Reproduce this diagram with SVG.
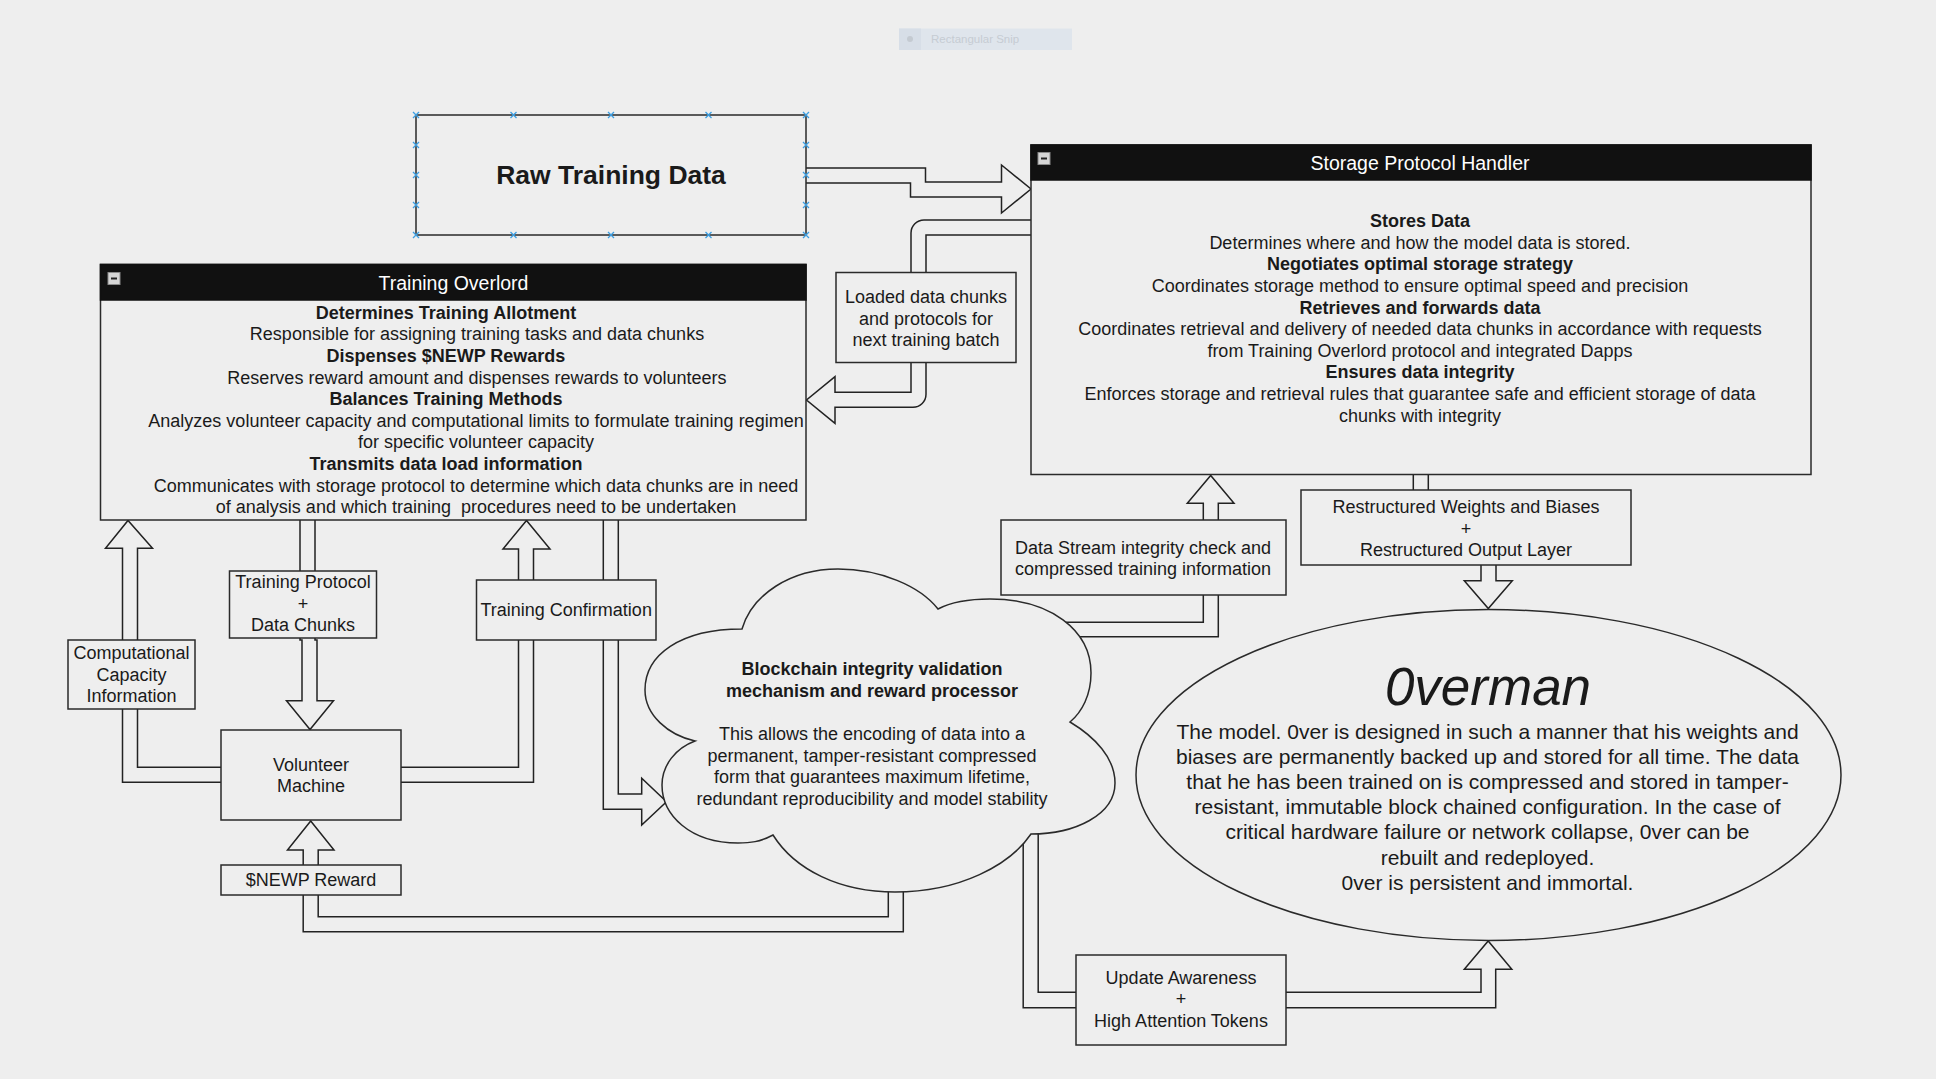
<svg xmlns="http://www.w3.org/2000/svg" xmlns:xlink="http://www.w3.org/1999/xlink" width="1936" height="1079" viewBox="0 0 1936 1079">
  <style>
    .box { fill: #eeeeee; stroke: #2a2a2a; stroke-width: 1.5; }
    .hdr { fill: #111111; stroke: #111111; stroke-width: 1.5; }
    .arrow { fill: #eeeeee; stroke: #222222; stroke-width: 1.5; stroke-linejoin: miter; }
    .t { font-family: "Liberation Sans", Arial, Helvetica, sans-serif; font-size: 18px; fill: #1a1a1a; text-anchor: middle; }
    .b { font-weight: bold; }
    .title { font-size: 19.5px; fill: #ffffff; }
    .big { font-size: 21px; }
    .raw { font-size: 26.5px; font-weight: bold; }
    .hero { font-size: 53px; font-style: italic; }
    .handle { stroke: #3d9fe2; stroke-width: 1.3; fill: none; }
  </style>
  <defs>
    <!-- collapse button shown in container headers -->
    <g id="collapse">
      <rect x="0" y="0" width="12" height="12" fill="#d6d6d6" stroke="#8a8a8a" stroke-width="1"/>
      <line x1="3" y1="6" x2="9" y2="6" stroke="#222222" stroke-width="2"/>
    </g>
    <!-- selection handle cross -->
    <path id="hx" class="handle" d="M-3,-3 L3,3 M-3,3 L3,-3"/>
  </defs>

  <rect x="0" y="0" width="1936" height="1079" fill="#eeeeee"/>

  <!-- faded screen-capture toolbar -->
  <g id="snip-toolbar">
    <rect x="899" y="28.5" width="173" height="21.5" fill="#dfe5ec"/>
    <rect x="899" y="28.5" width="22" height="21.5" fill="#d7dee7"/>
    <circle cx="910" cy="39" r="3" fill="#c4cad1"/>
    <text x="931" y="43" font-family="'Liberation Sans', Arial, sans-serif" font-size="11.5" fill="#c6ccd3">Rectangular Snip</text>
  </g>

  <!-- connectors (hollow block arrows) -->
  <g id="connectors">
    <path class="arrow" d="M806,168 H925.5 V182 H1001.5 V165 L1031,189 L1001.5,213 V197 H910.5 V183 H806"/>
    <path class="arrow" d="M1031,220 H924 A13,13 0 0 0 911,233 V392.3 H835 V376.7 L806.5,400 L835,423.3 V407.3 H913 A13,13 0 0 0 926,394.3 V235 H1031"/>
    <path class="arrow" d="M221,767.3 H137.5 V548.3 H152.5 L128,520.5 L105.5,548.3 H122.5 V782.3 H221"/>
    <path class="arrow" d="M300,520 V640 H302 V700.7 H286.5 L310,729.5 L333.5,700.7 H317 V640 H315 V520"/>
    <path class="arrow" d="M400.5,767.3 H518.5 V549 H503 L526.5,520.5 L550,549 H533.5 V782.3 H400.5"/>
    <path class="arrow" d="M603.3,520 V809.3 H641.7 V825 L666.5,801.7 L641.7,778.3 V794 H618.3 V520"/>
    <path class="arrow" d="M303.2,865 V850 H287.5 L310.7,821 L334,850 H318.2 V865"/>
    <path class="arrow" d="M303.2,895 V931.7 H903.3 V870 H888.3 V916.7 H318.2 V895"/>
    <path class="arrow" d="M1040,636.7 H1218.3 V503.3 H1234 L1210.7,475.5 L1187.3,503.3 H1203.3 V622.3 H1040"/>
    <path class="arrow" d="M1413.3,474 V520 H1481 V580.7 H1464.3 L1488.3,608.5 L1512.3,580.7 H1496 V520 H1428.3 V474"/>
    <path class="arrow" d="M1023.2,820 V1007.7 H1495.7 V969.3 H1511.8 L1488.2,941 L1464.3,969.3 H1481 V992.3 H1038.2 V820"/>
  </g>

  <!-- Raw Training Data (selected) -->
  <g id="raw-training-data">
    <rect class="box" x="416" y="115" width="390" height="120"/>
    <text class="t raw" x="611" y="184">Raw Training Data</text>
    <use xlink:href="#hx" x="416" y="115"/><use xlink:href="#hx" x="513.5" y="115"/><use xlink:href="#hx" x="611" y="115"/><use xlink:href="#hx" x="708.5" y="115"/><use xlink:href="#hx" x="806" y="115"/>
    <use xlink:href="#hx" x="416" y="235"/><use xlink:href="#hx" x="513.5" y="235"/><use xlink:href="#hx" x="611" y="235"/><use xlink:href="#hx" x="708.5" y="235"/><use xlink:href="#hx" x="806" y="235"/>
    <use xlink:href="#hx" x="416" y="145"/><use xlink:href="#hx" x="416" y="175"/><use xlink:href="#hx" x="416" y="205"/>
    <use xlink:href="#hx" x="806" y="145"/><use xlink:href="#hx" x="806" y="175"/><use xlink:href="#hx" x="806" y="205"/>
  </g>

  <!-- Storage Protocol Handler container -->
  <g id="storage-protocol-handler">
    <rect class="box" x="1031" y="145" width="780" height="329.5"/>
    <rect class="hdr" x="1031" y="145" width="780" height="35"/>
    <use xlink:href="#collapse" x="1038" y="152.5"/>
    <text class="t title" x="1420" y="170.3">Storage Protocol Handler</text>
    <text class="t b" x="1420" y="227.1">Stores Data</text>
    <text class="t" x="1420" y="248.7">Determines where and how the model data is stored.</text>
    <text class="t b" x="1420" y="270.3">Negotiates optimal storage strategy</text>
    <text class="t" x="1420" y="291.9">Coordinates storage method to ensure optimal speed and precision</text>
    <text class="t b" x="1420" y="313.5">Retrieves and forwards data</text>
    <text class="t" x="1420" y="335.1">Coordinates retrieval and delivery of needed data chunks in accordance with requests</text>
    <text class="t" x="1420" y="356.7">from Training Overlord protocol and integrated Dapps</text>
    <text class="t b" x="1420" y="378.3">Ensures data integrity</text>
    <text class="t" x="1420" y="399.9">Enforces storage and retrieval rules that guarantee safe and efficient storage of data</text>
    <text class="t" x="1420" y="421.5">chunks with integrity</text>
  </g>

  <!-- Training Overlord container -->
  <g id="training-overlord">
    <rect class="box" x="100.5" y="264.5" width="705.5" height="255.5"/>
    <rect class="hdr" x="100.5" y="264.5" width="705.5" height="35.5"/>
    <use xlink:href="#collapse" x="108" y="272.5"/>
    <text class="t title" x="453.5" y="290.3">Training Overlord</text>
    <text class="t b" x="446" y="318.7">Determines Training Allotment</text>
    <text class="t" x="477" y="340.3">Responsible for assigning training tasks and data chunks</text>
    <text class="t b" x="446" y="361.9">Dispenses $NEWP Rewards</text>
    <text class="t" x="477" y="383.5">Reserves reward amount and dispenses rewards to volunteers</text>
    <text class="t b" x="446" y="405.1">Balances Training Methods</text>
    <text class="t" x="476" y="426.7">Analyzes volunteer capacity and computational limits to formulate training regimen</text>
    <text class="t" x="476" y="448.3">for specific volunteer capacity</text>
    <text class="t b" x="446" y="469.9">Transmits data load information</text>
    <text class="t" x="476" y="491.5">Communicates with storage protocol to determine which data chunks are in need</text>
    <text class="t" x="476" y="513.1" xml:space="preserve">of analysis and which training  procedures need to be undertaken</text>
  </g>

  <g id="loaded-data-chunks">
    <rect class="box" x="836" y="272.5" width="180" height="90"/>
    <text class="t" x="926" y="303.1">Loaded data chunks</text>
    <text class="t" x="926" y="324.7">and protocols for</text>
    <text class="t" x="926" y="346.3">next training batch</text>
  </g>

  <g id="computational-capacity">
    <rect class="box" x="68" y="640" width="127" height="69"/>
    <text class="t" x="131.5" y="659.1">Computational</text>
    <text class="t" x="131.5" y="680.7">Capacity</text>
    <text class="t" x="131.5" y="702.3">Information</text>
  </g>

  <g id="training-protocol">
    <rect class="box" x="229.5" y="571" width="147" height="67"/>
    <text class="t" x="303" y="588.1">Training Protocol</text>
    <text class="t" x="303" y="609.7">+</text>
    <text class="t" x="303" y="631.3">Data Chunks</text>
  </g>

  <g id="training-confirmation">
    <rect class="box" x="476.5" y="580" width="179.5" height="60"/>
    <text class="t" x="566.2" y="616.4">Training Confirmation</text>
  </g>

  <g id="volunteer-machine">
    <rect class="box" x="221" y="730" width="180" height="90"/>
    <text class="t" x="311" y="770.6">Volunteer</text>
    <text class="t" x="311" y="792.2">Machine</text>
  </g>

  <g id="newp-reward">
    <rect class="box" x="221" y="865" width="180" height="30"/>
    <text class="t" x="311" y="885.7">$NEWP Reward</text>
  </g>

  <g id="blockchain-cloud">
    <path class="box" d="M742,629 C752,595 790,569 838,569 C880,569 920,586 938,609 C955,600 975,599 990,599 C1050,599 1091,630 1091,673 C1091,695 1082,712 1070,722 C1095,737 1115,758 1115,783 C1115,815 1075,834 1031,834 C1010,865 960,892 895,892 C840,892 795,870 773,835 C760,842 750,843 738,843 C690,843 662,815 662,785 C662,765 676,748 695,741 C668,735 645,715 645,690 C645,655 680,629 742,629 Z"/>
    <text class="t b" x="872" y="675.4">Blockchain integrity validation</text>
    <text class="t b" x="872" y="697">mechanism and reward processor</text>
    <text class="t" x="872" y="740.2">This allows the encoding of data into a</text>
    <text class="t" x="872" y="761.8">permanent, tamper-resistant compressed</text>
    <text class="t" x="872" y="783.4">form that guarantees maximum lifetime,</text>
    <text class="t" x="872" y="805">redundant reproducibility and model stability</text>
  </g>

  <g id="data-stream-check">
    <rect class="box" x="1001" y="520" width="285" height="75"/>
    <text class="t" x="1143" y="553.7">Data Stream integrity check and</text>
    <text class="t" x="1143" y="575.3">compressed training information</text>
  </g>

  <g id="restructured-weights">
    <rect class="box" x="1301" y="490" width="330" height="75"/>
    <text class="t" x="1466" y="513.1">Restructured Weights and Biases</text>
    <text class="t" x="1466" y="534.7">+</text>
    <text class="t" x="1466" y="556.3">Restructured Output Layer</text>
  </g>

  <g id="overman">
    <ellipse class="box" cx="1488.5" cy="775" rx="352.5" ry="165.5"/>
    <text class="t hero" x="1488" y="705">0verman</text>
    <text class="t big" x="1487.5" y="738.5">The model. 0ver is designed in such a manner that his weights and</text>
    <text class="t big" x="1487.5" y="763.7">biases are permanently backed up and stored for all time. The data</text>
    <text class="t big" x="1487.5" y="788.9">that he has been trained on is compressed and stored in tamper-</text>
    <text class="t big" x="1487.5" y="814.1">resistant, immutable block chained configuration. In the case of</text>
    <text class="t big" x="1487.5" y="839.3">critical hardware failure or network collapse, 0ver can be</text>
    <text class="t big" x="1487.5" y="864.5">rebuilt and redeployed.</text>
    <text class="t big" x="1487.5" y="889.7">0ver is persistent and immortal.</text>
  </g>

  <g id="update-awareness">
    <rect class="box" x="1076" y="955" width="210" height="90"/>
    <text class="t" x="1181" y="983.7">Update Awareness</text>
    <text class="t" x="1181" y="1005.3">+</text>
    <text class="t" x="1181" y="1026.9">High Attention Tokens</text>
  </g>
</svg>
